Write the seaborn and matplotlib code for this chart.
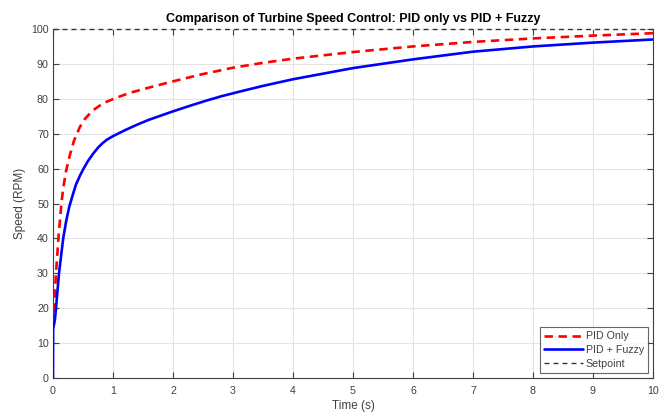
import matplotlib
matplotlib.use("Agg")
import matplotlib.pyplot as plt
import seaborn as sns
import pandas as pd

# Step responses of the turbine speed loop (time in s, speed in RPM)
t_pid = [0, 0.02, 0.05, 0.09, 0.14, 0.17, 0.22, 0.28, 0.35, 0.45, 0.53, 0.62, 0.7, 0.8,
         0.9, 1.0, 1.15, 1.3, 1.62, 2.0, 2.5, 3.0, 3.5, 4.0, 5.0, 6.0, 7.0, 8.0, 9.0, 10.0]
speed_pid = [15, 21, 30, 40, 50, 54.4, 59.5, 63.8, 68, 72, 74.2, 75.9, 77.1, 78.3,
             79.2, 79.9, 80.9, 81.8, 83.3, 85, 87.1, 88.9, 90.3, 91.5, 93.4, 95.0, 96.3,
             97.3, 98.1, 98.8]

t_fuzzy = [0, 0.002, 0.03, 0.05, 0.1, 0.17, 0.22, 0.27, 0.33, 0.38, 0.45, 0.51, 0.58,
           0.67, 0.75, 0.82, 0.9, 1.0, 1.2, 1.39, 1.6, 1.8, 2.0, 2.3, 2.56, 2.8, 3.12,
           3.5, 4.0, 5.0, 6.0, 7.0, 8.0, 9.0, 10.0]
speed_fuzzy = [0, 14, 16.5, 20, 30, 40, 45, 49, 52.5, 55.3, 58, 60, 62.1,
               64.3, 66, 67.2, 68.3, 69.3, 71, 72.5, 74, 75.2, 76.4, 78.1, 79.5, 80.7, 82.1,
               83.7, 85.6, 88.8, 91.3, 93.5, 95.0, 96.1, 97.0]

t_set = [0, 10]
speed_set = [100, 100]

sns.set_theme(style="white")
plt.rcParams["font.family"] = ["Liberation Sans", "DejaVu Sans"]

fig = plt.figure(figsize=(6.66, 4.12), dpi=100)
ax = fig.add_axes([53 / 666, 1 - 378 / 412, 600 / 666, 349 / 412])

df_pid = pd.DataFrame({"t": t_pid, "speed": speed_pid})
df_fuzzy = pd.DataFrame({"t": t_fuzzy, "speed": speed_fuzzy})
df_set = pd.DataFrame({"t": t_set, "speed": speed_set})

sns.lineplot(data=df_pid, x="t", y="speed", ax=ax, color="#ff0000", lw=1.9,
             linestyle=(0, (3.2, 2.1)), label="PID Only", zorder=3)
sns.lineplot(data=df_fuzzy, x="t", y="speed", ax=ax, color="#0000ff", lw=1.9,
             label="PID + Fuzzy", zorder=4)
sns.lineplot(data=df_set, x="t", y="speed", ax=ax, color="#333333", lw=1.0,
             linestyle=(0, (3.5, 3)), label="Setpoint", zorder=5)
ax.get_lines()[2].set_clip_on(False)

ax.set_xlim(0, 10)
ax.set_ylim(0, 100)
ax.set_xticks(range(0, 11))
ax.set_yticks(range(0, 101, 10))
ax.grid(True, color="#e3e3e3", lw=0.8)
ax.set_axisbelow(True)

txt = "#404040"
ax.tick_params(direction="in", length=4, width=0.8, colors="#404040",
               labelsize=7.7, top=True, right=True, bottom=True, left=True,
               labelcolor=txt)
ax.tick_params(axis="x", pad=6)
ax.tick_params(axis="y", pad=3)
for s in ax.spines.values():
    s.set_color("#404040")
    s.set_linewidth(0.8)
ax.spines["top"].set_visible(False)

ax.set_xlabel("Time (s)", fontsize=8.5, color=txt, labelpad=3)
ax.set_ylabel("Speed (RPM)", fontsize=8.5, color=txt, labelpad=4)
ax.set_title("Comparison of Turbine Speed Control: PID only vs PID + Fuzzy",
             fontsize=9, fontweight="bold", color="black", pad=5)

leg = ax.legend(loc="lower right", fontsize=7.7, frameon=True, fancybox=False,
                borderpad=0.4, handlelength=3.6, handletextpad=0.25,
                labelspacing=0.35, borderaxespad=0.45)
leg.get_frame().set_edgecolor("#404040")
leg.get_frame().set_linewidth(0.8)
for t in leg.get_texts():
    t.set_color(txt)

fig.savefig("out.png", dpi=100)
